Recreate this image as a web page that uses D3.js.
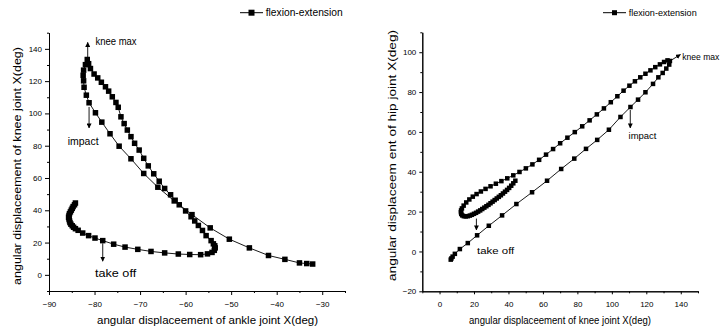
<!DOCTYPE html>
<html>
<head>
<meta charset="utf-8">
<script src="https://cdn.jsdelivr.net/npm/d3@7"></script>
<style>
  body { margin: 0; background: #fff; }
  svg { display: block; font-family: "Liberation Sans", Arial, sans-serif; }
</style>
</head>
<body>
<svg id="chart" width="726" height="335"></svg>
<script>
// --- data ---
const seriesName = "flexion-extension";

// left panel: ankle (x) vs knee (y), in path order
const ankleAngle = [-84.2, -84.4, -84.7, -84.9, -85.1, -85.3, -85.5, -85.6, -85.7, -85.6, -85.5, -85.4, -85.2, -84.9, -84.6, -84.2,
  -83.6, -82.6, -81.3, -79.9, -78.2, -75.8, -73.3, -70.5, -67.6, -64.6, -61.6, -59.1, -56.7, -55.2, -54.2, -53.7,
  -53.5, -53.6, -53.9, -54.4, -55.5, -56.3, -57.2, -58.0, -58.8, -60.0, -61.4, -62.3, -63.3, -64.6, -65.8, -67.0,
  -68.2, -69.2, -70.2, -71.2, -72.0, -72.8, -73.5, -74.2, -74.8, -75.3, -76.1, -76.9, -77.6, -78.5, -79.3, -80.1,
  -80.9, -81.3, -81.6, -82.0, -82.4, -82.5, -82.4, -82.3, -81.8, -81.2, -79.8, -78.4, -76.6, -74.6, -72.0, -69.2,
  -66.1, -62.5, -58.6, -54.6, -50.4, -46.0, -41.8, -38.2, -35.0, -33.4, -32.1];
const kneeAngle = [44.5, 43.4, 42.3, 41.2, 40.1, 39.0, 37.9, 36.8, 35.7, 34.6, 33.5, 32.4, 31.4, 30.4, 29.5, 28.6,
  27.6, 25.9, 24.3, 22.8, 21.2, 19.0, 17.2, 15.8, 14.5, 13.6, 12.9, 12.6, 12.5, 13.0, 13.9, 15.2,
  16.7, 18.0, 19.2, 21.2, 24.3, 27.5, 30.6, 33.4, 36.0, 39.6, 43.4, 46.2, 49.6, 53.5, 58.0, 62.6,
  67.5, 72.2, 77.3, 81.5, 85.6, 89.7, 93.7, 97.9, 103.8, 106.8, 110.3, 113.8, 116.5, 119.3, 122.0, 124.4,
  127.8, 130.8, 133.4, 130.2, 126.8, 123.6, 120.2, 116.2, 111.3, 106.6, 100.4, 94.6, 87.4, 79.7, 71.9, 62.8,
  54.3, 45.8, 37.3, 29.1, 22.1, 16.7, 12.0, 9.6, 7.4, 7.0, 6.7];

// right panel: knee (x) vs hip (y), in path order
const kneeAngleB = [44.0, 42.8, 41.6, 40.4, 39.2, 38.0, 36.8, 35.6, 34.4, 33.2, 32.0, 30.8, 29.6, 28.4, 27.2, 26.0,
  24.8, 23.6, 22.4, 21.2, 20.0, 18.8, 17.6, 16.4, 15.2, 14.1, 13.2, 12.6, 12.4, 12.5, 13.0,
  14.0, 15.5, 17.3, 19.3, 21.5, 24.0, 26.7, 29.6, 32.7, 35.9, 39.3, 42.8, 46.4, 50.1, 53.9, 57.8,
  61.8, 65.9, 70.0, 74.2, 78.5, 82.8, 87.1, 91.3, 95.4, 99.4, 103.2, 106.8, 110.2, 113.4, 116.5, 119.5,
  122.4, 125.2, 127.9, 130.3, 132.3, 133.7, 133.3, 131.6, 129.5, 127.0, 123.9, 119.5, 115.2, 110.8, 105.0,
  98.3, 91.5, 85.0, 78.2, 70.6, 62.4, 53.7, 44.6, 36.3, 28.6, 21.8, 16.4, 11.8, 8.9, 7.6, 6.9, 6.5];
const hipAngle = [35.5, 34.2, 33.0, 31.9, 30.9, 30.0, 29.1, 28.2, 27.4, 26.6, 25.8, 25.0, 24.2, 23.4, 22.7, 22.0,
  21.3, 20.6, 20.0, 19.4, 18.9, 18.4, 18.0, 17.7, 17.6, 17.7, 18.1, 18.8, 19.7, 20.6, 21.6,
  23.0, 24.6, 26.1, 27.5, 28.8, 30.1, 31.4, 32.7, 34.0, 35.3, 36.7, 38.2, 39.9, 41.7, 43.7, 46.0,
  48.6, 51.4, 54.3, 57.1, 59.9, 62.8, 65.8, 68.8, 71.8, 74.9, 77.9, 80.7, 83.2, 85.4, 87.4, 89.2,
  90.9, 92.5, 93.9, 95.1, 95.9, 95.6, 93.8, 91.8, 89.6, 87.4, 84.1, 79.9, 76.2, 72.5, 67.5,
  61.1, 56.0, 51.5, 46.6, 41.4, 35.5, 29.7, 23.8, 18.1, 12.9, 8.1, 4.2, 1.2, -1.2, -2.6, -3.5, -4.1];

// ticks
const ankleTicks = [-90, -80, -70, -60, -50, -40, -30];
const ankleMinorTicks = [-85, -75, -65, -55, -45, -35, -25];
const kneeYTicks = [0, 20, 40, 60, 80, 100, 120, 140];
const kneeYMinorTicks = [-10, 10, 30, 50, 70, 90, 110, 130, 150];
const kneeXTicks = [0, 20, 40, 60, 80, 100, 120, 140];
const kneeXMinorTicks = [-10, 10, 30, 50, 70, 90, 110, 130, 150];
const hipTicks = [-20, 0, 20, 40, 60, 80, 100];
const hipMinorTicks = [-10, 10, 30, 50, 70, 90, 110];

// event annotations (data units): arrow from -> to, label anchor
const leftNotes = [
  { label: "knee max", from: [-81.5, 134.5], to: [-81.5, 144], at: [-79.8, 142.5] },
  { label: "impact", from: [-81.2, 104], to: [-81.2, 91], at: [-85.9, 80.5] },
  { label: "take off", from: [-78.2, 19.5], to: [-78.2, 8.5], at: [-79.9, -1.5] }
];
const rightNotes = [
  { label: "knee max", from: [133.5, 95.5], to: [139.8, 98.8], at: [140.8, 96] },
  { label: "impact", from: [110.7, 71], to: [110.7, 62], at: [109.7, 56.2] },
  { label: "take off", from: [21.4, 16.5], to: [21.4, 10.8], at: [21.8, -1.2] }
];

const svg = d3.select("#chart");

// arrow head
svg.append("defs").append("marker")
  .attr("id", "arrow")
  .attr("viewBox", "0 0 10 10")
  .attr("refX", 9).attr("refY", 5)
  .attr("markerWidth", 5).attr("markerHeight", 5)
  .attr("markerUnits", "userSpaceOnUse")
  .attr("orient", "auto")
  .append("path")
  .attr("d", "M0,0 L10,5 L0,10 z")
  .attr("fill", "#000");

function drawPanel(o) {
  const x = d3.scaleLinear().domain(o.xDomain).range(o.xRange);
  const y = d3.scaleLinear().domain(o.yDomain).range(o.yRange);
  const g = svg.append("g");
  const baseY = o.yRange[0], baseX = o.xRange[0];

  // axes: minor ticks first, then labelled major ticks
  g.append("g").attr("transform", `translate(0,${baseY})`)
    .call(d3.axisBottom(x).tickValues(o.xMinor).tickSize(2).tickSizeOuter(0).tickFormat(""));
  g.append("g").attr("transform", `translate(${baseX},0)`)
    .call(d3.axisLeft(y).tickValues(o.yMinor).tickSize(2).tickSizeOuter(0).tickFormat(""));
  const xa = g.append("g").attr("transform", `translate(0,${baseY})`)
    .call(d3.axisBottom(x).tickValues(o.xMajor).tickSize(o.tick).tickSizeOuter(0).tickPadding(o.tickPadX));
  const ya = g.append("g").attr("transform", `translate(${baseX},0)`)
    .call(d3.axisLeft(y).tickValues(o.yMajor).tickSize(o.tick).tickSizeOuter(0).tickPadding(o.tickPadY));
  g.selectAll(".domain, .tick line").attr("stroke", "#000").attr("stroke-width", 1);
  [xa, ya].forEach(a => a.selectAll("text")
    .attr("font-family", "Liberation Sans, Arial, sans-serif")
    .attr("font-size", 8).attr("fill", "#000"));

  // axis titles
  g.append("text")
    .attr("x", o.xTitle.x).attr("y", o.xTitle.y)
    .attr("text-anchor", "middle")
    .attr("font-size", o.xTitle.size)
    .attr("textLength", o.xTitle.len).attr("lengthAdjust", "spacingAndGlyphs")
    .text(o.xTitle.text);
  g.append("text")
    .attr("transform", `translate(${o.yTitle.x},${o.yTitle.y}) rotate(-90)`)
    .attr("text-anchor", "middle")
    .attr("font-size", o.yTitle.size)
    .attr("textLength", o.yTitle.len).attr("lengthAdjust", "spacingAndGlyphs")
    .text(o.yTitle.text);

  // series line + square markers
  const pts = o.xs.map((v, i) => [v, o.ys[i]]);
  g.append("path")
    .datum(pts)
    .attr("fill", "none")
    .attr("stroke", "#000")
    .attr("stroke-width", 0.9)
    .attr("d", d3.line().x(d => x(d[0])).y(d => y(d[1])));
  g.selectAll("rect.pt")
    .data(pts)
    .enter().append("rect")
    .attr("class", "pt")
    .attr("x", d => x(d[0]) - o.marker / 2)
    .attr("y", d => y(d[1]) - o.marker / 2)
    .attr("width", o.marker)
    .attr("height", o.marker)
    .attr("fill", "#000");

  // annotations
  o.notes.forEach(n => {
    g.append("line")
      .attr("x1", x(n.from[0])).attr("y1", y(n.from[1]))
      .attr("x2", x(n.to[0])).attr("y2", y(n.to[1]))
      .attr("stroke", "#000").attr("stroke-width", 0.9)
      .attr("marker-end", "url(#arrow)");
    g.append("text")
      .attr("x", x(n.at[0])).attr("y", y(n.at[1]))
      .attr("font-size", o.noteSize)
      .attr("textLength", o.noteSize * n.label.length * 0.5)
      .attr("lengthAdjust", "spacingAndGlyphs")
      .text(n.label);
  });

  // legend
  const lg = g.append("g").attr("transform", `translate(${o.legend.x},${o.legend.y})`);
  lg.append("line").attr("x1", 0).attr("x2", 23).attr("stroke", "#000").attr("stroke-width", 1);
  lg.append("rect")
    .attr("x", 11.5 - o.legend.sq / 2).attr("y", -o.legend.sq / 2)
    .attr("width", o.legend.sq).attr("height", o.legend.sq).attr("fill", "#000");
  lg.append("text")
    .attr("x", 25.7).attr("y", o.legend.size * 0.35)
    .attr("font-size", o.legend.size)
    .attr("textLength", o.legend.len).attr("lengthAdjust", "spacingAndGlyphs")
    .text(seriesName);
}

drawPanel({
  xDomain: [-90, -25], xRange: [49, 345],
  yDomain: [-10, 150], yRange: [291, 32.7],
  xMajor: ankleTicks, xMinor: ankleMinorTicks,
  yMajor: kneeYTicks, yMinor: kneeYMinorTicks,
  tick: 4, tickPadX: 6.5, tickPadY: 3,
  xs: ankleAngle, ys: kneeAngle, marker: 5.5,
  xTitle: { text: "angular displaceement of ankle joint X(deg)", x: 207.5, y: 323.5, size: 11.5, len: 221 },
  yTitle: { text: "angular displaceement of knee joint X(deg)", x: 21, y: 166, size: 11, len: 238 },
  notes: leftNotes, noteSize: 10.3,
  legend: { x: 240, y: 12.7, sq: 6, size: 10.3, len: 77 }
});

drawPanel({
  xDomain: [-10, 150], xRange: [422.3, 698],
  yDomain: [-20, 110], yRange: [291.3, 32.3],
  xMajor: kneeXTicks, xMinor: kneeXMinorTicks,
  yMajor: hipTicks, yMinor: hipMinorTicks,
  tick: 3, tickPadX: 7, tickPadY: 3,
  xs: kneeAngleB, ys: hipAngle, marker: 4.5,
  xTitle: { text: "angular displaceement of knee joint X(deg)", x: 560, y: 324, size: 10.5, len: 182 },
  yTitle: { text: "angular displaceem ent of hip joint X(deg)", x: 396, y: 155.5, size: 10.5, len: 251 },
  notes: rightNotes, noteSize: 9.3,
  legend: { x: 603, y: 12.7, sq: 5, size: 9.2, len: 68 }
});
</script>
</body>
</html>
